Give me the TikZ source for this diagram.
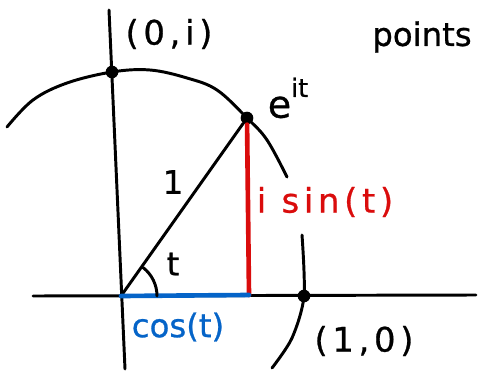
\documentclass[tikz,border=0pt]{standalone}
\usepackage{fontspec}
\setmainfont{DejaVu Sans}
\usetikzlibrary{positioning}
\definecolor{penred}{RGB}{218,12,12}
\definecolor{penblue}{RGB}{5,100,200}

\begin{document}
\begin{tikzpicture}[x=0.025cm,y=-0.025cm,line cap=round,line join=round,
  every node/.style={font=\fontsize{23}{26}\selectfont\addfontfeature{FakeBold=0.8},inner sep=1pt},
  wide/.style={font=\fontsize{24}{26}\selectfont\addfontfeature{FakeBold=0.8,LetterSpace=14}},
  pen/.style={line width=2.1pt},
  thick pen/.style={line width=3.3pt},
  dot/.style={circle,fill,inner sep=0pt,minimum size=9pt}]
\useasboundingbox (0,0) rectangle (478,373);
\coordinate (xl) at (33,296);
\coordinate (xr) at (476,295);
\coordinate (yt) at (109,10);
\coordinate (yb) at (125,369);
\coordinate (o) at (121,296);
\coordinate (q) at (249,295);
\draw[pen] (xl)--(xr);
\draw[pen] (yt)--(yb);
\node[dot] (i) at (112,72) {};
\node[dot] (p) at (247,118) {};
\node[dot] (one) at (304,296) {};
\draw[pen] plot[smooth,tension=0.6] coordinates {(7,127) (33,100) (67,83) (112,72) (150,70) (187,78) (217,90) (247,118) (267,140) (287,177)};
\draw[pen] plot[smooth] coordinates {(302,235) (304,296) (292,338) (272,368)};
\draw[pen] (o)--(p);
\draw[thick pen,penred] (p)--(q);
\draw[thick pen,penblue] (o)--(q);
\draw[pen] (o) ++(36,0) arc[start angle=0,end angle=-52,radius=36];
\node[wide] (lbli) at (169,34) {(0,i)};
\node (lblp) at (288,98) {\fontsize{27}{28}\selectfont e\raisebox{1.0ex}{\fontsize{18}{18}\selectfont it}};
\node (lblpts) at (422,37) {points};
\node (lblr) at (173,182) {1};
\node (lblt) at (173,264) {t};
\node[penred,wide] (lblsin) at (325,202) {i sin(t)};
\node[penblue] (lblcos) at (178,327) {cos(t)};
\node[wide] (lblone) at (364,341) {(1,0)};
\end{tikzpicture}
\end{document}
